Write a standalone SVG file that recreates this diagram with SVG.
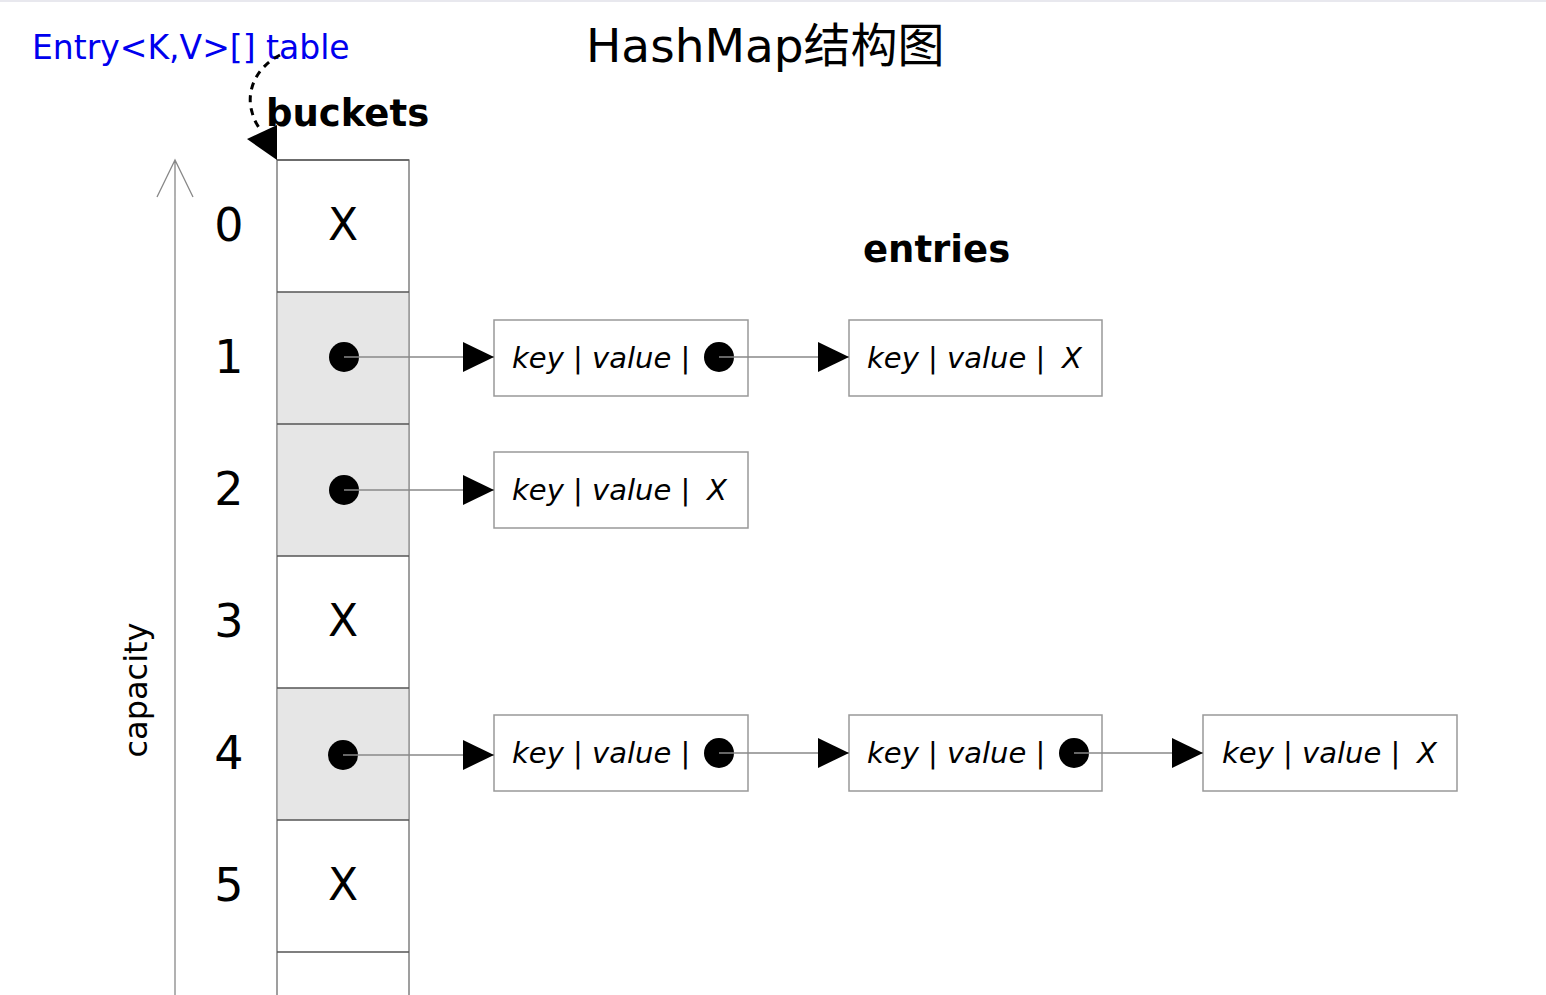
<svg xmlns="http://www.w3.org/2000/svg" width="1546" height="995" viewBox="0 0 1546 995">
<style>
.t{font-family:"DejaVu Sans","Noto Sans CJK SC",sans-serif;fill:#000}
.idx{font-size:46px;text-anchor:middle}
.x{font-size:44px;text-anchor:middle}
.kv{font-size:29px;font-style:italic}
.b{font-size:37px;font-weight:bold}
.cell{stroke:#999;stroke-width:1.5;fill:#fff}
.full{fill:#e6e6e6}
.div{stroke:#555;stroke-width:1.5}
.box{fill:#fff;stroke:#999;stroke-width:1.5}
.ln{stroke:#888;stroke-width:1.3;fill:none}
</style>
<defs>
<marker id="ah" markerWidth="32" markerHeight="30" refX="31" refY="15" markerUnits="userSpaceOnUse" orient="auto">
<path d="M0,0 L31,15 L0,30 Z" fill="#000"/>
</marker>
</defs>
<rect x="0" y="0" width="1546" height="995" fill="#fff"/>
<rect x="0" y="0" width="1546" height="2" fill="#e8e8ee"/>
<text class="t" x="586" y="62" font-size="47">HashMap结构图</text>
<text x="32" y="59" font-family="DejaVu Sans,sans-serif" font-size="33" fill="#0000ee">Entry&lt;K,V&gt;[] table</text>
<text class="t b" x="266" y="126">buckets</text>
<text class="t b" x="863" y="262">entries</text>
<g id="axis">
<path class="ln" d="M175,995 V160 M157,197 L175,160 L193,197"/>
<text class="t" font-size="32" transform="translate(147,690) rotate(-90)" text-anchor="middle">capacity</text>
</g>
<g id="buckets">
<rect class="cell" x="277" y="160" width="132" height="850"/>
<rect class="full" x="277" y="292" width="132" height="264"/>
<rect class="full" x="277" y="688" width="132" height="132"/>
<path class="ln" d="M277,160 V995 M409,160 V995" style="stroke:#999;stroke-width:1.5"/>
<path class="div" d="M277,160 H409 M277,292 H409 M277,424 H409 M277,556 H409 M277,688 H409 M277,820 H409 M277,952 H409"/>
<text class="t idx" x="229" y="241">0</text>
<text class="t idx" x="229" y="373">1</text>
<text class="t idx" x="229" y="505">2</text>
<text class="t idx" x="229" y="637">3</text>
<text class="t idx" x="229" y="769">4</text>
<text class="t idx" x="229" y="901">5</text>
<text class="t x" x="343" y="240">X</text>
<text class="t x" x="343" y="636">X</text>
<text class="t x" x="343" y="900">X</text>
<circle cx="344" cy="357" r="15"/>
<circle cx="344" cy="490" r="15"/>
<circle cx="343" cy="755" r="15"/>
</g>
<g id="e1a"><rect class="box" x="494" y="320" width="254" height="76"/><text class="t kv" x="512" y="368">key | value |</text><circle cx="719" cy="357" r="15"/></g>
<g id="e1b"><rect class="box" x="849" y="320" width="253" height="76"/><text class="t kv" x="867" y="368">key | value |</text><text class="t kv" x="1062" y="368">X</text></g>
<g id="e2a"><rect class="box" x="494" y="452" width="254" height="76"/><text class="t kv" x="512" y="500">key | value |</text><text class="t kv" x="707" y="500">X</text></g>
<g id="e4a"><rect class="box" x="494" y="715" width="254" height="76"/><text class="t kv" x="512" y="763">key | value |</text><circle cx="719" cy="753" r="15"/></g>
<g id="e4b"><rect class="box" x="849" y="715" width="253" height="76"/><text class="t kv" x="867" y="763">key | value |</text><circle cx="1074" cy="753" r="15"/></g>
<g id="e4c"><rect class="box" x="1203" y="715" width="254" height="76"/><text class="t kv" x="1222" y="763">key | value |</text><text class="t kv" x="1417" y="763">X</text></g>
<g id="connectors">
<path class="ln" d="M344,357 H494" marker-end="url(#ah)"/>
<path class="ln" d="M719,357 H849" marker-end="url(#ah)"/>
<path class="ln" d="M344,490 H494" marker-end="url(#ah)"/>
<path class="ln" d="M343,755 H494" marker-end="url(#ah)"/>
<path class="ln" d="M719,753 H849" marker-end="url(#ah)"/>
<path class="ln" d="M1074,753 H1203" marker-end="url(#ah)"/>
<path d="M280,55 C255,68 246,92 252,112 C254,120 257,125 260,129" fill="none" stroke="#000" stroke-width="3" stroke-dasharray="7,6"/>
<path d="M247,139 L277,125 L277,160 Z" fill="#000"/>
</g>
</svg>
